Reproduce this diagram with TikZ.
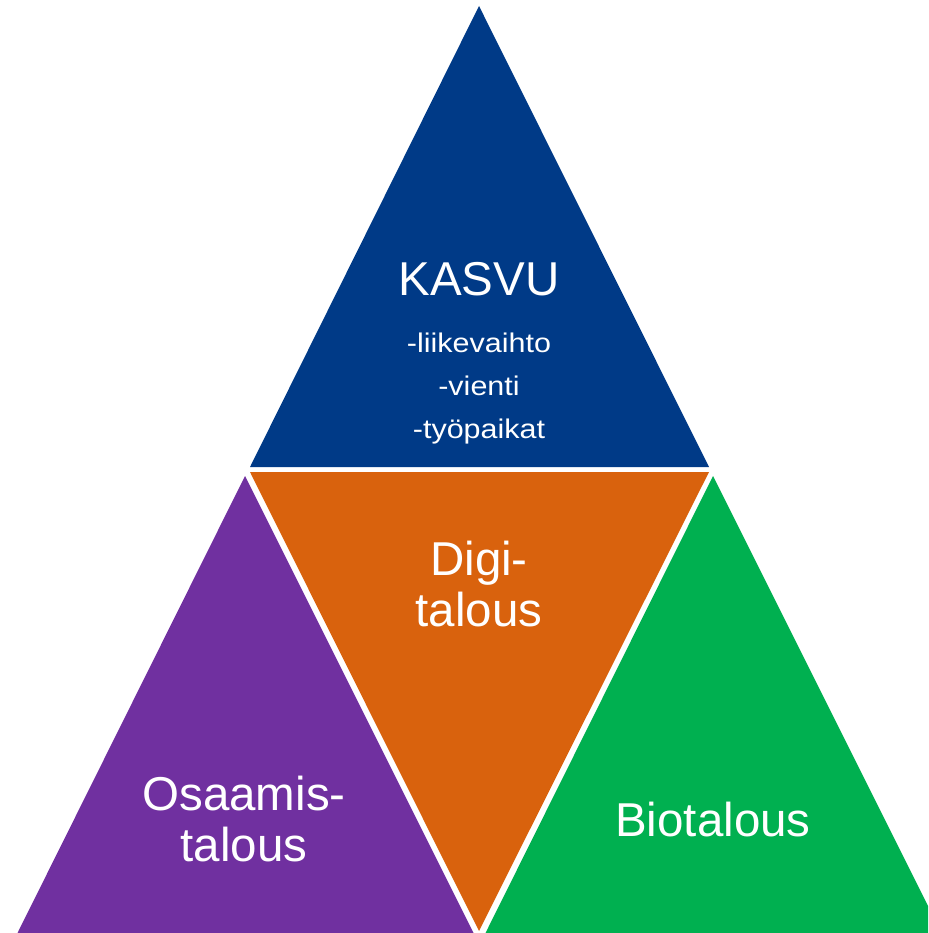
\documentclass[tikz,border=0pt]{standalone}
\usepackage{fontspec}
\setmainfont{Liberation Sans}
\usepackage{xcolor}
\definecolor{KasvuBlue}{HTML}{003A87}
\definecolor{DigiOrange}{HTML}{D9620D}
\definecolor{OsaamisPurple}{HTML}{7030A0}
\definecolor{BioGreen}{HTML}{00B050}

\begin{document}
\begin{tikzpicture}[
	x=1pt, y=-1pt, % one unit is one pixel of the layout, y downwards
	% Style for the coloured triangles
	tri/.style={
		fill=#1,
		draw=none
	},
	% Style for the big white labels
	big label/.style={
		text=white,
		font=\fontsize{47.5}{51}\selectfont,
		align=center,
		inner sep=0pt
	},
	% Style for the small list lines
	list label/.style={
		text=white,
		font=\fontsize{27}{30}\selectfont,
		anchor=base,
		inner sep=0pt
	}
	]
	
	% 0. Frame of the picture
	\clip (0, 0) rectangle (928, 933);
	
	% 1. Triangles
	% Top (blue)
	\fill[tri=KasvuBlue] (479, 6) -- (709, 467) -- (250, 467) -- cycle;
	% Middle, upside down (orange)
	\fill[tri=DigiOrange] (250, 472) -- (709, 472) -- (479, 931) -- cycle;
	% Bottom left (purple)
	\fill[tri=OsaamisPurple] (245, 476) -- (474, 934) -- (17, 934) -- cycle;
	% Bottom right (green)
	\fill[tri=BioGreen] (713, 476) -- (942, 934) -- (485, 934) -- cycle;
	
	% 2. Labels
	% Top triangle
	\node[big label, anchor=base] (kasvu) at (479, 295) {KASVU};
	\node[list label] (liike) at (479, 352) {\scalebox{1.13}[1]{-liikevaihto}};
	\node[list label] (vienti) at (479, 395) {\scalebox{1.13}[1]{-vienti}};
	\node[list label] (tyo) at (479, 438) {\scalebox{1.13}[1]{-työpaikat}};
	
	% Middle triangle
	\node[big label] (digi) at (479, 584) {Digi-\\talous};
	
	% Bottom triangles
	\node[big label] (osaamis) at (244, 819) {Osaamis-\\talous};
	\node[big label] (bio) at (713, 820) {Biotalous};
	
\end{tikzpicture}
\end{document}
